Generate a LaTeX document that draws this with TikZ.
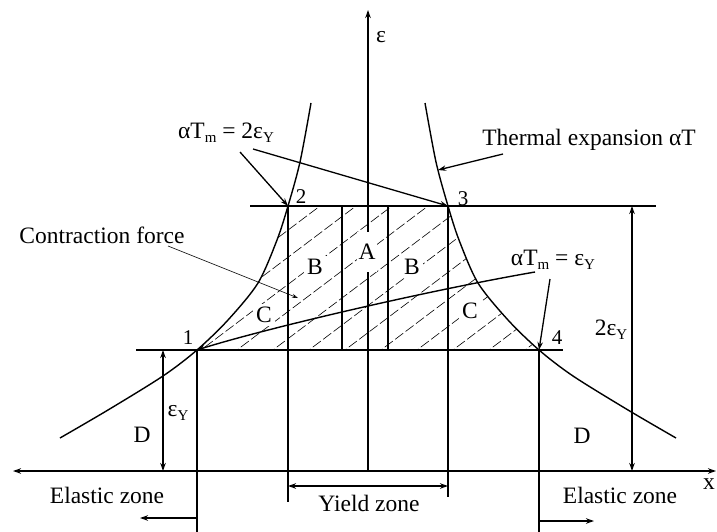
\documentclass[tikz,border=0pt]{standalone}
\usepackage{fontspec}
\setmainfont{Liberation Serif}
\usetikzlibrary{arrows.meta}
\newcommand{\lowY}{\raisebox{-0.35ex}{\fontsize{15}{15}\selectfont Y}}
\newcommand{\lowm}{\raisebox{-0.35ex}{\fontsize{15}{15}\selectfont m}}
\begin{document}
\begin{tikzpicture}[x=1pt,y=-1pt, line width=1.3pt,
  >={Stealth[length=8pt,width=5.5pt]},
  txt/.style={font=\fontsize{23.5}{25}\selectfont, inner sep=1pt},
  num/.style={font=\fontsize{21}{23}\selectfont, inner sep=1pt},
  region/.style={txt, fill=white, inner sep=3pt},
  hatch/.style={line width=0.6pt, dash pattern=on 10pt off 3pt},
  pointer/.style={line width=0.6pt, -{Stealth[open,length=6pt,width=4pt]}},
  curve/.style={line width=1.4pt}]
\useasboundingbox (0,0) rectangle (717,532);
% key points
\coordinate (p1) at (197,350);
\coordinate (p2) at (288,206);
\coordinate (p3) at (448,206);
\coordinate (p4) at (539,350);
% hatched region
\begin{scope}
\clip (p2) -- (p3) -- plot[smooth] coordinates {(448,206) (459,240) (478,283) (508,320) (539,350)}
  -- (p1) -- plot[smooth] coordinates {(197,350) (228,320) (258,283) (277,240) (288,206)} -- cycle;
\foreach \k in {-7,...,9}
  \draw[hatch] ({237+36*\k-100},{350+75.4}) -- ({237+36*\k+250},{350-188.5});
\end{scope}
% axes
\coordinate (xl) at (13,471);
\coordinate (xr) at (716,471);
\coordinate (eb) at (368,471);
\coordinate (et) at (368,10);
\draw[line width=1.6pt,<->] (xl) -- (xr);
\draw[line width=1.6pt,->] (eb) -- (et);
\node[txt] (xlab) at (709,484) {x};
\node[txt] (elab) at (381,37) {ε};
% horizontal levels
\coordinate (tl) at (250,206);
\coordinate (tr) at (656,206);
\coordinate (bl) at (136,350);
\coordinate (br) at (563,350);
\draw[line width=1.6pt] (tl) -- (tr);
\draw[line width=1.4pt] (bl) -- (br);
% vertical lines
\coordinate (v1b) at (197,532);
\coordinate (v2b) at (288,502);
\coordinate (v3b) at (448,497);
\coordinate (v4b) at (539,532);
\coordinate (va1t) at (342,206);
\coordinate (va1b) at (342,350);
\coordinate (va2t) at (388,206);
\coordinate (va2b) at (388,350);
\draw (p1) -- (v1b);
\draw (p2) -- (v2b);
\draw (p3) -- (v3b);
\draw (p4) -- (v4b);
\draw (va1t) -- (va1b);
\draw (va2t) -- (va2b);
% thermal expansion curves
\draw[curve] plot[smooth] coordinates {(311,103) (300,162) (288,206) (277,240) (258,283) (228,320) (197,350) (163,376) (108,410) (60,438)};
\draw[curve] plot[smooth] coordinates {(425,103) (436,162) (448,206) (459,240) (478,283) (508,320) (539,350) (573,376) (628,410) (676,438)};
% contraction line
\coordinate (c5) at (535,272);
\draw[curve,->] (c5) .. controls (420,292) and (260,330) .. (p1);
% dimension arrows
\coordinate (ey1) at (163,350);
\coordinate (ey0) at (163,471);
\coordinate (e2t) at (632,206);
\coordinate (e2b) at (632,471);
\draw[<->] (ey0) -- (ey1);
\draw[<->] (e2b) -- (e2t);
\node[txt] (eyl) at (178,413) {ε\lowY};
\node[txt] (e2l) at (611,330) {2ε\lowY};
\coordinate (yz1) at (288,486);
\coordinate (yz2) at (448,486);
\draw[<->] (yz1) -- (yz2);
\node[txt] (yzl) at (369,503) {Yield zone};
\coordinate (el1b) at (140,518);
\coordinate (el1a) at (197,518);
\draw[->] (el1a) -- (el1b);
\coordinate (el2a) at (539,521);
\coordinate (el2b) at (594,521);
\draw[->] (el2a) -- (el2b);
\node[txt] (ez1) at (107,495) {Elastic zone};
\node[txt] (ez2) at (620,495) {Elastic zone};
% annotation labels and arrows
\node[txt] (twoy) at (226,133) {αT\lowm\ = 2ε\lowY};
\coordinate (a2s) at (240,152);
\coordinate (a3s) at (253,149);
\draw[->] (a2s) -- (p2);
\draw[->] (a3s) -- (p3);
\node[txt] (therm) at (589,140) {Thermal expansion αT};
\coordinate (ths) at (503,154);
\coordinate (the) at (438,170);
\draw[->] (ths) -- (the);
\node[txt] (oney) at (553,260) {αT\lowm\ = ε\lowY};
\coordinate (a4s) at (550,279);
\draw[->] (a4s) -- (p4);
\node[txt] (contr) at (102,235) {Contraction force};
\coordinate (cfs) at (168,246);
\coordinate (cfe) at (298,298);
\draw[pointer] (cfs) -- (cfe);
% point numbers
\node[num] (n1) at (188,338) {1};
\node[num] (n2) at (301,197) {2};
\node[num] (n3) at (463,199) {3};
\node[num] (n4) at (557,338) {4};
% region letters
\node[region, minimum height=40pt, inner xsep=2pt] (rA) at (367,252) {A};
\node[region] (rB1) at (315,267) {B};
\node[region] (rB2) at (412,267) {B};
\node[region] (rC1) at (264,315) {C};
\node[region] (rC2) at (470,311) {C};
\node[txt] (rD1) at (142,435) {D};
\node[txt] (rD2) at (582,436) {D};
\end{tikzpicture}
\end{document}
